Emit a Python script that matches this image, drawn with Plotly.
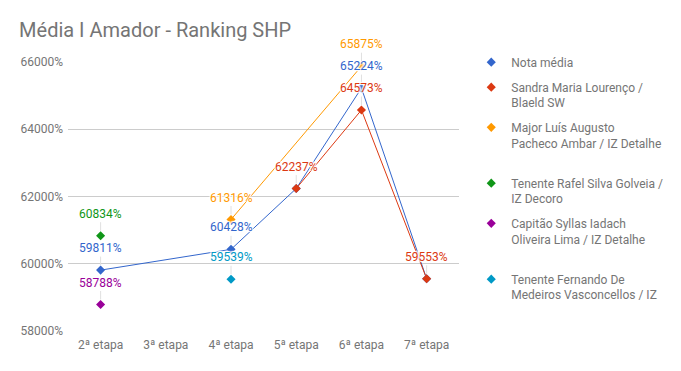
import plotly.graph_objects as go

categories = ["2ª etapa", "3ª etapa", "4ª etapa", "5ª etapa", "6ª etapa", "7ª etapa"]

series_names = [
    "Nota média",
    "Sandra Maria Lourenço /<br>Blaeld SW",
    "Major Luís Augusto<br>Pacheco Ambar / IZ Detalhe<br>&nbsp;",
    "Tenente Rafel Silva Golveia /<br>IZ Decoro",
    "Capitão Syllas Iadach<br>Oliveira Lima / IZ Detalhe<br>&nbsp;",
    "Tenente Fernando De<br>Medeiros Vasconcellos / IZ",
]

nota_media = [598.11, None, 604.28, 622.37, 652.24, 595.53]
sandra = [None, None, None, 622.37, 645.73, 595.53]
major = [None, None, 613.16, None, 658.75, None]
rafel = [608.34, None, None, None, None, None]
syllas = [587.88, None, None, None, None, None]
fernando = [None, None, 595.39, None, None, None]

colors = ["#3366cc", "#dc3912", "#ff9900", "#109618", "#990099", "#0099c6"]

all_series = [nota_media, sandra, major, rafel, syllas, fernando]

FONT = "Roboto, Arial, sans-serif"
GREY = "#757575"

fig = go.Figure()

# lines (no legend)
for vals, col in zip(all_series, colors):
    fig.add_trace(go.Scatter(
        x=categories, y=vals, mode="lines", connectgaps=True,
        line=dict(color=col, width=1), showlegend=False, hoverinfo="skip"))

# markers (with legend)
for i, (vals, col, name) in enumerate(zip(all_series, colors, series_names)):
    fig.add_trace(go.Scatter(
        x=categories, y=vals, mode="markers", name=name,
        legendgroup=f"g{i}",
        marker=dict(symbol="diamond", size=7, color=col)))

# data labels (skip average labels that coincide with a participant's value)
halo = "1px 1px 1px #fff, -1px -1px 1px #fff, 1px -1px 1px #fff, -1px 1px 1px #fff, 0 0 2px #fff"
for s_idx, (vals, col) in enumerate(zip(all_series, colors)):
    for j, v in enumerate(vals):
        if v is None:
            continue
        if s_idx == 0 and any(other[j] == v for other in all_series[1:]):
            continue
        fig.add_annotation(
            x=categories[j], y=v, text=f"{v * 100:.0f}%",
            showarrow=True, arrowhead=0, arrowwidth=1, arrowcolor="#e0e0e0",
            ax=0, ay=-22, standoff=5,
            font=dict(family=FONT, size=12, color=col, shadow=halo))

fig.update_layout(
    width=681, height=371,
    margin=dict(l=68, r=213, t=62, b=40),
    paper_bgcolor="white", plot_bgcolor="white",
    title=dict(text="Média I Amador - Ranking SHP", x=0.028, xanchor="left",
               xref="container", yref="container",
               y=0.918, yanchor="middle",
               font=dict(family=FONT, size=20, color=GREY)),
    font=dict(family=FONT, size=12, color=GREY),
    showlegend=True,
    legend=dict(xref="container", yref="container",
                x=0.692, xanchor="left", y=0.871, yanchor="top",
                valign="top", tracegroupgap=6, maxheight=1,
                font=dict(family=FONT, size=12, color=GREY)),
    xaxis=dict(type="category", categoryorder="array", categoryarray=categories,
               range=[-0.5, 5.5], showgrid=False, zeroline=False, showline=False,
               ticks="", ticklabelstandoff=5,
               tickfont=dict(family=FONT, size=12, color=GREY)),
    yaxis=dict(range=[580, 660], tickvals=[580, 600, 620, 640, 660],
               tickformat=".0%", showgrid=True, gridcolor="#cccccc",
               zeroline=False, showline=False, ticks="", ticklabelstandoff=4,
               tickfont=dict(family=FONT, size=12, color=GREY)),
)

fig.write_html("out.html", config={"displayModeBar": False},
               post_script="document.body.style.margin='0';")
